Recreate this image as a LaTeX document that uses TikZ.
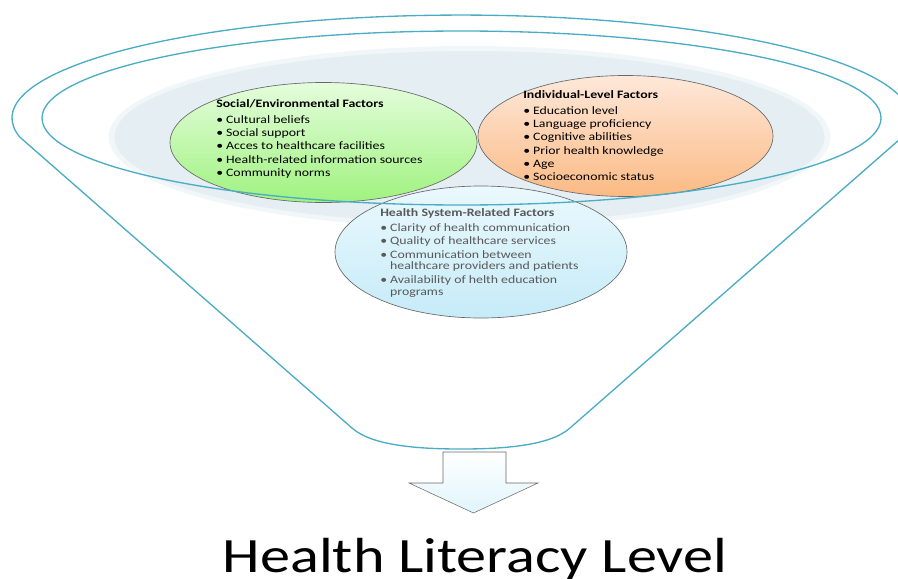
\documentclass[tikz,border=0pt]{standalone}
\usepackage{fontspec}
\setmainfont{Carlito}[FakeStretch=1.22]
\usepackage{tikz}
\usetikzlibrary{shapes.geometric}
\definecolor{funnelblue}{RGB}{75,172,198}
\definecolor{haze}{RGB}{229,238,242}
\definecolor{rimgray}{RGB}{105,105,105}
\definecolor{textgray}{RGB}{89,89,89}
\definecolor{greentop}{RGB}{228,253,220}
\definecolor{greenbot}{RGB}{160,242,128}
\definecolor{orangetop}{RGB}{254,232,218}
\definecolor{orangebot}{RGB}{251,186,132}
\definecolor{bluetop}{RGB}{234,249,253}
\definecolor{bluebot}{RGB}{198,235,248}
\tikzstyle{factor} = [
    ellipse,
    draw = rimgray,
    line width = 0.5pt,
    inner sep = 0pt
]
\tikzstyle{list} = [
    anchor = north west,
    inner sep = 0pt,
    align = left,
    font = \fontsize{8.5}{10}\selectfont
]
\tikzstyle{rim} = [
    draw = funnelblue,
    line width = 1pt
]
\newcommand{\itm}[1]{\makebox[7.4pt][l]{\textbullet}#1}

\begin{document}
\begin{tikzpicture}[x=0.75pt, y=-0.75pt]
        \useasboundingbox (0,0) rectangle (898,578);
        \clip (0,0) rectangle (898,578);

        %% Haze
        \fill[haze!55] (469.5,137) ellipse [x radius=361, y radius=91];
        \fill[haze] (469.5,137) ellipse [x radius=355, y radius=86];

        %% Ellipses
        \node (social) [factor, minimum width=230.25pt, minimum height=90pt, top color=greentop, bottom color=greenbot] at (323.5,142.5) {};
        \node (individual) [factor, minimum width=221.25pt, minimum height=90.75pt, top color=orangetop, bottom color=orangebot] at (625.5,136) {};
        \node (system) [factor, minimum width=219pt, minimum height=99pt, top color=bluetop, bottom color=bluebot] at (481,252) {};

        %% Funnel
        \draw[rim] (461.5,118) ellipse [x radius=419.5, y radius=87];
        \draw[rim] (19.7,137) arc[start angle=169.4, end angle=370.6, x radius=449, y radius=103] -- (570,428) .. controls (550,446) and (502,449) .. (461,449) .. controls (420,449) and (372,446) .. (352,428) -- cycle;

        %% Texts
        \node (socialtext) [list] at (216,99) {\textbf{Social/Environmental Factors}\\[2pt]
            \itm{Cultural beliefs}\\ \itm{Social support}\\ \itm{Acces to healthcare facilities}\\
            \itm{Health-related information sources}\\ \itm{Community norms}};
        \node (individualtext) [list] at (523,90) {\textbf{Individual-Level Factors}\\[2pt]
            \itm{Education level}\\ \itm{Language proficiency}\\ \itm{Cognitive abilities}\\
            \itm{Prior health knowledge}\\ \itm{Age}\\ \itm{Socioeconomic status}};
        \node (systemtext) [list, text=textgray] at (380,208) {\textbf{Health System-Related Factors}\\[1.5pt]
            \itm{Clarity of health communication}\\ \itm{Quality of healthcare services}\\
            \itm{Communication between}\\[-1.2pt] \hspace*{7.4pt}healthcare providers and patients\\
            \itm{Availability of helth education}\\[-1.2pt] \hspace*{7.4pt}programs};

        %% Arrow
        \draw[rimgray, line width=0.4pt, top color=white, bottom color=bluetop!70!bluebot] (443,452) -- (506,452) -- (506,483) -- (538,483) -- (473.5,513) -- (409,483) -- (443,483) -- cycle;

        %% Result
        \node (result) [anchor=base, inner sep=0pt, font=\fontsize{37}{40}\selectfont] at (475,572.5) {Health Literacy Level};

    \end{tikzpicture}
\end{document}
